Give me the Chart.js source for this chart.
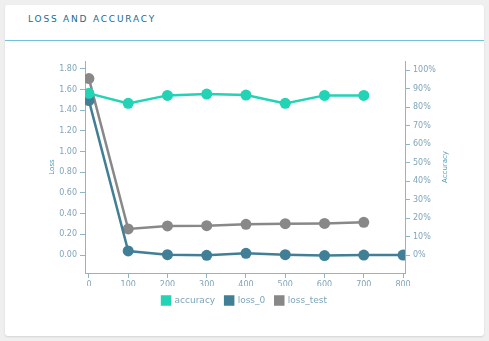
<!DOCTYPE html>
<html>
<head>
<meta charset="utf-8">
<script src="https://cdn.jsdelivr.net/npm/chart.js@4.4.1/dist/chart.umd.min.js"></script>
<style>
html,body{margin:0;padding:0;background:#efefef;width:489px;height:341px;overflow:hidden;}
#card{position:absolute;left:5px;top:5px;width:479px;height:331px;background:#fff;border-radius:3px;box-shadow:0 1px 2px rgba(0,0,0,0.12);}
#title{position:absolute;left:23px;top:9px;font:9px "DejaVu Sans",sans-serif;letter-spacing:1.8px;color:#176c8c;}
#sep{position:absolute;left:0;top:35px;width:479px;height:1px;background:#72c0da;}
#wrap{position:absolute;left:0;top:37px;width:479px;height:290px;}
</style>
</head>
<body>
<div id="card">
  <div id="title">LOSS AND ACCURACY</div>
  <div id="sep"></div>
  <div id="wrap"><canvas id="c"></canvas></div>
</div>
<script>
const steps = [0, 100, 200, 300, 400, 500, 600, 700, 800];
const accuracy = [0.874, 0.820, 0.863, 0.870, 0.865, 0.820, 0.863, 0.863, null];
const loss0 = [1.494, 0.039, 0.003, -0.003, 0.016, 0.003, -0.005, 0.0, 0.0];
const lossTest = [1.707, 0.252, 0.281, 0.284, 0.297, 0.303, 0.306, 0.316, null];
const leftTitle = 'Loss';
const rightTitle = 'Accuracy';

const axisColor = '#8fb6c6';
const tickColor = '#7fa5b8';
const font = {family: '"DejaVu Sans", sans-serif', size: 8};

function pts(arr){ return arr.map((v,i)=> v===null?null:{x:steps[i], y:v}).filter(p=>p); }

const titlePlugin = {
  id:'axisTitles',
  afterDraw(chart){
    const ctx = chart.ctx, a = chart.chartArea;
    const cy = (a.top + a.bottom)/2;
    [[47, leftTitle],[440, rightTitle]].forEach(([x, t])=>{
      ctx.save();
      ctx.fillStyle = '#4e9dbb';
      ctx.font = '7px "DejaVu Sans", sans-serif';
      ctx.textAlign = 'center'; ctx.textBaseline = 'middle';
      ctx.translate(x, cy); ctx.rotate(-Math.PI/2); ctx.fillText(t, 0, 0);
      ctx.restore();
    });
  }
};

new Chart(document.getElementById('c'), {
  type: 'line',
  data: {
    datasets: [
      {label:'accuracy', data: pts(accuracy), yAxisID:'y1', borderColor:'#22d3b6', backgroundColor:'#22d3b6', pointBackgroundColor:'#22d3b6', borderWidth:2.5, pointRadius:5.5, pointBorderWidth:0, tension:0},
      {label:'loss_0', data: pts(loss0), yAxisID:'y', borderColor:'#417f96', backgroundColor:'#417f96', pointBackgroundColor:'#417f96', borderWidth:2.5, pointRadius:5.5, pointBorderWidth:0, tension:0},
      {label:'loss_test', data: pts(lossTest), yAxisID:'y', borderColor:'#888888', backgroundColor:'#888888', pointBackgroundColor:'#888888', borderWidth:2.5, pointRadius:5.5, pointBorderWidth:0, tension:0}
    ]
  },
  options: {
    responsive:true, maintainAspectRatio:false, animation:false,
    layout:{padding:{top:19, left:0, right:0, bottom:17}},
    plugins:{
      legend:{position:'bottom', labels:{boxWidth:8, boxHeight:8, padding:10, color:tickColor, font:{family:'"DejaVu Sans", sans-serif', size:9}}},
      tooltip:{enabled:false}
    },
    scales:{
      x:{type:'linear', min:-10, max:805,
         afterFit(s){ s.height = 13; },
         ticks:{stepSize:100, includeBounds:false, color:tickColor, font, padding:2, maxRotation:0},
         grid:{drawOnChartArea:false, drawTicks:true, tickLength:5, color:axisColor},
         border:{color:axisColor, width:1}},
      y:{type:'linear', position:'left', min:-0.174, max:1.877,
         afterFit(s){ s.width = 80; },
         ticks:{stepSize:0.2, includeBounds:false, color:tickColor, font, padding:3, callback:v=>v.toFixed(2)},
         grid:{drawOnChartArea:false, drawTicks:true, tickLength:5, color:axisColor},
         border:{color:axisColor, width:1}},
      y1:{type:'linear', position:'right', min:-0.0973, max:1.049,
         afterFit(s){ s.width = 79; },
         ticks:{stepSize:0.1, includeBounds:false, color:tickColor, font, padding:3, callback:v=>Math.round(v*100)+'%'},
         grid:{drawOnChartArea:false, drawTicks:true, tickLength:5, color:axisColor},
         border:{color:axisColor, width:1}}
    }
  },
  plugins:[titlePlugin]
});
</script>
</body>
</html>
